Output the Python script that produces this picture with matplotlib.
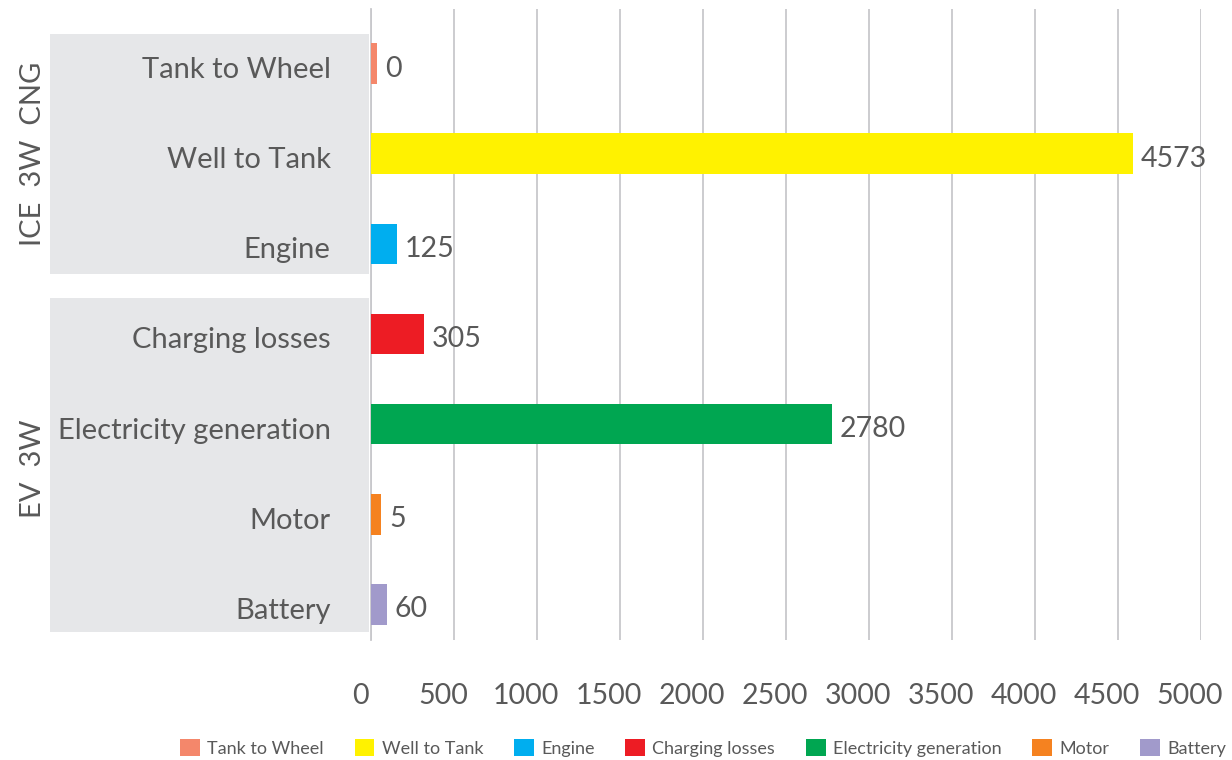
import matplotlib
matplotlib.use('Agg')
import matplotlib.pyplot as plt
import matplotlib.transforms as mtransforms
from matplotlib.patches import Rectangle

plt.rcParams['font.family'] = ['Lato', 'DejaVu Sans']

# categories top to bottom
cats = ['Tank to Wheel', 'Well to Tank', 'Engine', 'Charging losses',
        'Electricity generation', 'Motor', 'Battery']
# bar lengths as drawn in the picture
bar_len = [36, 4590, 157, 319, 2777, 60, 96]
# data labels shown next to bars
val_labels = ['0', '4573', '125', '305', '2780', '5', '60']
colors = ['#F4876B', '#FFF200', '#00AEEF', '#ED1C24', '#00A651', '#F58220', '#A19ACB']
groups = ['ICE  3W  CNG', 'EV  3W']
group_members = [[0, 1, 2], [3, 4, 5, 6]]
xticks = [0, 500, 1000, 1500, 2000, 2500, 3000, 3500, 4000, 4500, 5000]

txtc = '#595959'
W, H = 1232, 760
fig = plt.figure(figsize=(W/100, H/100), dpi=100)
ax = fig.add_axes([371/W, 1 - 640/H, (1201-371)/W, (640-9)/H])

for i in range(len(cats)):
    ax.barh(i, bar_len[i], height=0.45, color=colors[i], label=cats[i], zorder=3)
    ax.annotate(val_labels[i], (bar_len[i], i), xytext=(8, -5), textcoords='offset pixels',
                va='center', ha='left', fontsize=20.5, color=txtc)

ax.set_xlim(0, 5000)
ax.set_ylim(6.395, -0.605)
ax.set_xticks(xticks)
ax.set_xticklabels([str(t) for t in xticks])
ax.set_yticks(range(len(cats)))
ax.set_yticklabels(cats)
ax.tick_params(axis='y', length=0, pad=29, labelsize=21, labelcolor=txtc)
ax.tick_params(axis='x', length=0, pad=31, labelsize=20.5, labelcolor=txtc)
# Excel puts the value labels a little left of the gridlines
shift = mtransforms.ScaledTranslation(-11/100, 0, fig.dpi_scale_trans)
for lab in ax.get_xticklabels():
    lab.set_transform(lab.get_transform() + shift)
down = mtransforms.ScaledTranslation(0, -4/100, fig.dpi_scale_trans)
for lab in ax.get_yticklabels():
    lab.set_transform(lab.get_transform() + down)

ax.grid(axis='x', color='#C8C8CC', linewidth=1.3, zorder=0)
for s in ['top', 'right', 'bottom']:
    ax.spines[s].set_visible(False)
ax.spines['left'].set_color('#C8C8CC')
ax.spines['left'].set_linewidth(1.3)

# grey group boxes behind the category labels
trans = mtransforms.blended_transform_factory(fig.transFigure, ax.transData)
box_spans = [(-0.327, 2.335), (2.601, 6.307)]
for (y0, y1), g, members in zip(box_spans, groups, group_members):
    ax.add_patch(Rectangle((50/W, y0), (369-50)/W, y1 - y0, transform=trans,
                           facecolor='#E6E7E9', edgecolor='none', clip_on=False, zorder=-1))
    ymid = (members[0] + members[-1]) / 2
    ax.text(33/W, ymid, g, transform=trans, rotation=90, ha='center', va='center',
            fontsize=21, color=txtc)

leg = fig.legend(loc='center', bbox_to_anchor=(703/W, 1 - 748/H), ncol=7, frameon=False,
                 fontsize=13, handlelength=1.1, handleheight=1.1, handletextpad=0.4,
                 columnspacing=1.7, labelcolor=txtc)

fig.savefig('out.png', dpi=100)
